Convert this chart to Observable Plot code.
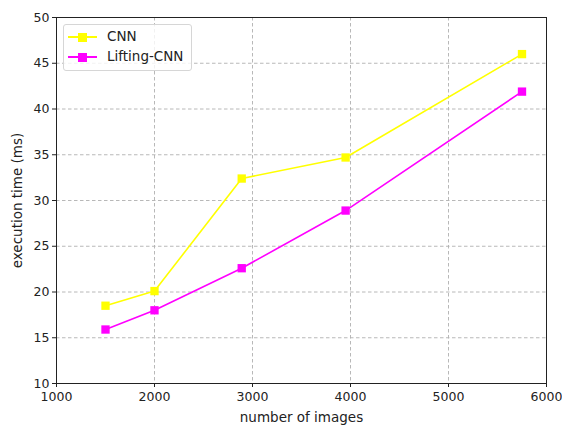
<!DOCTYPE html>
<html>
<head>
<meta charset="utf-8">
<script src="https://cdn.jsdelivr.net/npm/d3@7"></script>
<script src="https://cdn.jsdelivr.net/npm/@observablehq/plot@0.6"></script>
<style>
  body { margin: 0; background: #fff; }
  #wrap { position: relative; width: 562px; height: 425px; font-family: "DejaVu Sans", sans-serif; }
  #wrap svg g[aria-label="x-axis label"], #wrap svg g[aria-label="y-axis label"] { font-size: 13.5px; }
  #legend { position: absolute; left: 63px; top: 24px; width: 127px; height: 45px; border: 1px solid #d6d6d6; border-radius: 3px; background: rgba(255,255,255,0.8); font-size: 13.5px; color: #222; }
  .row { position: absolute; left: 0; height: 20px; }
  .row .ln { position: absolute; left: 4px; width: 29px; top: 9px; height: 1.5px; }
  .row .mk { position: absolute; left: 14px; top: 6px; width: 8.5px; height: 8.5px; }
  .row .tx { position: absolute; left: 43px; top: 1px; white-space: nowrap; }
</style>
</head>
<body>
<div id="wrap"></div>
<script>
const images = [1500, 2000, 2890, 3950, 5750];
const cnn = [18.5, 20.1, 32.4, 34.7, 46.0];
const lifting = [15.9, 18.0, 22.6, 28.9, 41.9];
const seriesNames = ["CNN", "Lifting-CNN"];
const seriesColors = ["#ffff00", "#ff00ff"];
const xTicks = [1000, 2000, 3000, 4000, 5000, 6000];
const yTicks = [10, 15, 20, 25, 30, 35, 40, 45, 50];

const rows = [];
images.forEach((x, i) => rows.push({x, y: cnn[i], s: seriesNames[0]}));
images.forEach((x, i) => rows.push({x, y: lifting[i], s: seriesNames[1]}));

const chart = Plot.plot({
  width: 562,
  height: 425,
  marginLeft: 56,
  marginRight: 16,
  marginTop: 17,
  marginBottom: 42,
  style: { fontFamily: "DejaVu Sans, sans-serif", fontSize: "12.5px", color: "#222", background: "#fff", overflow: "visible" },
  x: { domain: [1000, 6000], ticks: xTicks, tickFormat: d => String(d), tickSize: 4, tickPadding: 5, label: "number of images", labelAnchor: "center", labelArrow: "none", labelOffset: 38 },
  y: { domain: [10, 50], ticks: yTicks, tickFormat: d => String(d), tickSize: 4, tickPadding: 3, label: "execution time (ms)", labelAnchor: "center", labelArrow: "none", labelOffset: 44 },
  color: { domain: seriesNames, range: seriesColors },
  marks: [
    Plot.gridX(xTicks, { stroke: "#b0b0b0", strokeOpacity: 1, strokeDasharray: "3.5,2.5", strokeWidth: 0.9 }),
    Plot.gridY(yTicks, { stroke: "#b0b0b0", strokeOpacity: 1, strokeDasharray: "3.5,2.5", strokeWidth: 0.9 }),
    Plot.line(rows, { x: "x", y: "y", z: "s", stroke: "s", strokeWidth: 1.6 }),
    Plot.dot(rows, { x: "x", y: "y", fill: "s", symbol: "square", r: 4.7, stroke: null }),
    Plot.frame({ stroke: "#222", strokeWidth: 1 })
  ]
});

const wrap = document.getElementById("wrap");
wrap.appendChild(chart);

const legend = document.createElement("div");
legend.id = "legend";
seriesNames.forEach((n, i) => {
  const r = document.createElement("div");
  r.className = "row";
  r.style.top = (2 + i * 20) + "px";
  r.innerHTML = `<div class="ln" style="background:${seriesColors[i]}"></div><div class="mk" style="background:${seriesColors[i]}"></div><div class="tx">${n}</div>`;
  legend.appendChild(r);
});
wrap.appendChild(legend);
</script>
</body>
</html>
